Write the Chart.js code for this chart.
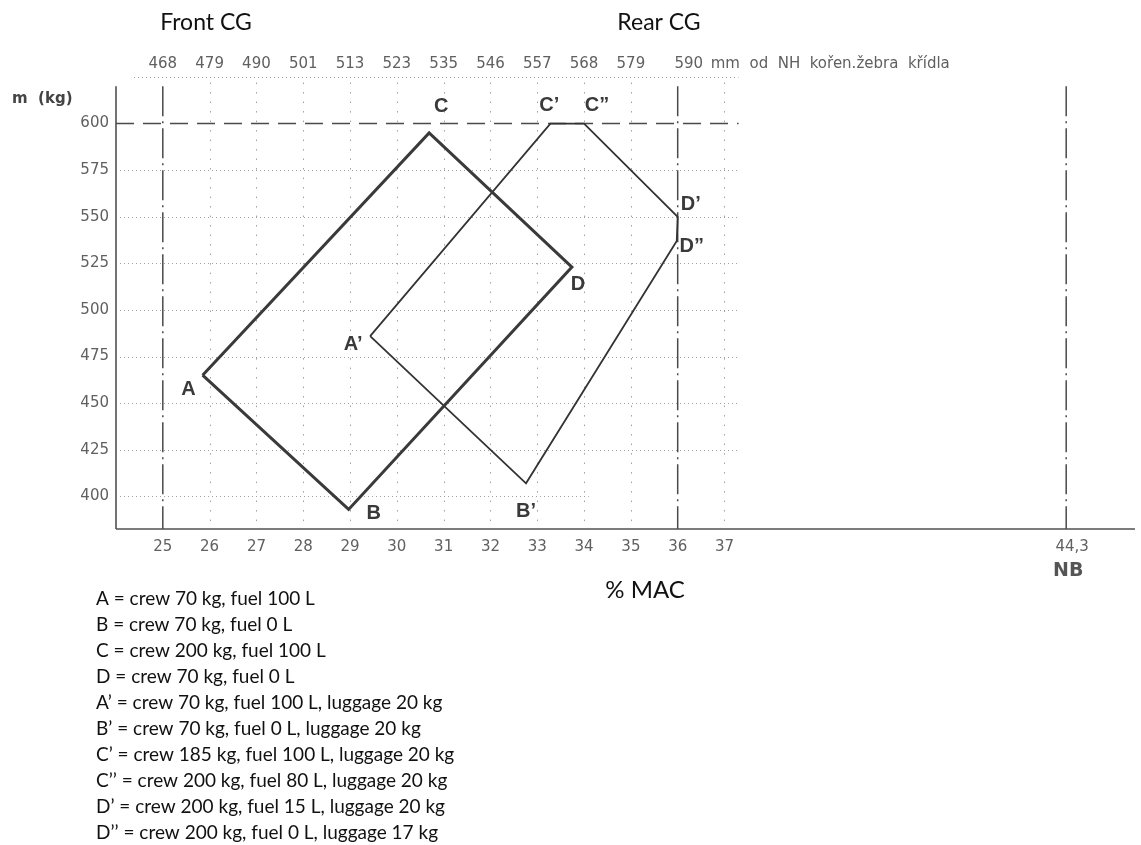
<!DOCTYPE html>
<html>
<head>
<meta charset="utf-8">
<script src="https://cdn.jsdelivr.net/npm/chart.js@4.4.0/dist/chart.umd.min.js"></script>
<style>
  body { margin: 0; background: #fff; }
  canvas { display: block; }
</style>
</head>
<body>
<canvas id="cg-chart" width="1141" height="845"></canvas>
<script>
// envelope without luggage: A -> B -> D -> C
const outerNames = ['A', 'B', 'D', 'C'];
const outerMac = [25.85, 28.97, 33.74, 30.69];
const outerMass = [465, 393, 523, 595];

// envelope with luggage: A' -> B' -> D'' -> D' -> C'' -> C'
const innerNames = ['A’', 'B’', 'D”', 'D’', 'C”', 'C’'];
const innerMac = [29.43, 32.76, 35.98, 36.0, 34.0, 33.28];
const innerMass = [486, 407, 537, 550, 600, 600];

// axes
const macTicks = [25, 26, 27, 28, 29, 30, 31, 32, 33, 34, 35, 36, 37];
const mmTicks = [468, 479, 490, 501, 513, 523, 535, 546, 557, 568, 579, 590];
const massTicks = [600, 575, 550, 525, 500, 475, 450, 425, 400];
const frontCg = 25;
const rearCg = 36;
const nbMac = 44.3;
const maxMass = 600;

const legendLines = [
    'A = crew 70 kg, fuel 100 L',
    'B = crew 70 kg, fuel 0 L',
    'C = crew 200 kg, fuel 100 L',
    'D = crew 70 kg, fuel 0 L',
    'A’ = crew 70 kg, fuel 100 L, luggage 20 kg',
    'B’ = crew 70 kg, fuel 0 L, luggage 20 kg',
    'C’ = crew 185 kg, fuel 100 L, luggage 20 kg',
    'C’’ = crew 200 kg, fuel 80 L, luggage 20 kg',
    'D’ = crew 200 kg, fuel 15 L, luggage 20 kg',
    'D’’ = crew 200 kg, fuel 0 L, luggage 17 kg'
];

// where the letter sits relative to its corner (px)
const labelOffset = {
    'A': [-14, 14], 'B': [25, 4], 'C': [12, -26], 'D': [6, 17],
    'A’': [-17, 8], 'B’': [0, 28], 'C’': [-1, -18], 'C”': [13, -18],
    'D’': [13, -12], 'D”': [15, 5]
};

function closed(macs, masses) {
    let pts = macs.map((m, i) => ({ x: m, y: masses[i] }));
    pts.push(pts[0]);
    return pts;
}

function seg(ctx, x1, y1, x2, y2) {
    ctx.beginPath();
    ctx.moveTo(x1, y1);
    ctx.lineTo(x2, y2);
    ctx.stroke();
}

const TICK_FONT = '15px "DejaVu Sans"';
const TICK_COLOR = '#606060';

const drawing = {
    id: 'drawing',
    beforeDatasetsDraw(chart) {
        const { ctx, chartArea: area, scales: { x, y } } = chart;
        const top = y.getPixelForValue(620);
        const bottom = y.getPixelForValue(y.min);
        const left = area.left;
        ctx.save();

        // dotted grid
        ctx.strokeStyle = '#a0a0a0';
        ctx.lineWidth = 1;
        ctx.setLineDash([1, 3]);
        massTicks.forEach(m => {
            if (m === maxMass) return;
            let end = m === 400 ? 34.1 : 37.3;
            let py = Math.round(y.getPixelForValue(m)) + 0.5;
            seg(ctx, left + 4, py, x.getPixelForValue(end), py);
        });
        let py0 = Math.round(y.getPixelForValue(625)) + 0.5;
        seg(ctx, left + 18, py0, x.getPixelForValue(37.3), py0);

        ctx.setLineDash([1.5, 8]);
        macTicks.forEach(v => {
            if (v === frontCg || v === rearCg) return;
            let px = Math.round(x.getPixelForValue(v)) + 0.5;
            seg(ctx, px, y.getPixelForValue(622), px, bottom - 6);
        });

        // limits
        ctx.strokeStyle = '#4a4a4a';
        ctx.lineWidth = 1.5;
        ctx.setLineDash([18, 9]);
        let pm = y.getPixelForValue(maxMass);
        seg(ctx, left, pm, x.getPixelForValue(37.3), pm);

        ctx.setLineDash([30, 5, 2, 5]);
        [frontCg, rearCg, nbMac].forEach(v => {
            let px = x.getPixelForValue(v);
            seg(ctx, px, top, px, bottom);
        });

        // axes
        ctx.setLineDash([]);
        ctx.strokeStyle = '#505050';
        ctx.lineWidth = 1.6;
        seg(ctx, left, top, left, bottom);
        seg(ctx, left, bottom, area.right, bottom);

        // tick labels
        ctx.font = TICK_FONT;
        ctx.fillStyle = TICK_COLOR;
        ctx.textBaseline = 'middle';
        ctx.textAlign = 'right';
        massTicks.forEach(m => ctx.fillText(m, left - 7, y.getPixelForValue(m)));
        ctx.textAlign = 'center';
        macTicks.forEach(v => ctx.fillText(v, x.getPixelForValue(v), bottom + 18));
        ctx.fillText('44,3', x.getPixelForValue(nbMac) + 6, bottom + 18);

        mmTicks.forEach((mm, i) => {
            let px = x.getPixelForValue(macTicks[i]);
            if (i === mmTicks.length - 1) px += 11;
            ctx.fillText(mm, px, area.top - 13);
        });
        ctx.textAlign = 'left';
        ctx.fillText('mm  od  NH  kořen.žebra  křídla',
            x.getPixelForValue(macTicks[mmTicks.length - 1]) + 33, area.top - 13);

        ctx.font = 'bold 15px "DejaVu Sans"';
        ctx.fillStyle = '#444';
        ctx.fillText('m  (kg)', 12, y.getPixelForValue(613));
        ctx.textAlign = 'center';
        ctx.font = 'bold 19px "DejaVu Sans"';
        ctx.fillStyle = '#555';
        ctx.fillText('NB', x.getPixelForValue(nbMac) + 2, bottom + 42);

        // headings and notes
        ctx.fillStyle = '#111';
        ctx.font = '23px Lato';
        ctx.fillText('Front CG', 206, 23);
        ctx.fillText('Rear CG', 659, 23);
        ctx.font = '24px Lato';
        ctx.fillText('% MAC', 645, 590);
        ctx.textAlign = 'left';
        ctx.font = '19px Lato';
        legendLines.forEach((t, i) => ctx.fillText(t, 96, 599 + i * 26));
        ctx.restore();
    },
    afterDatasetsDraw(chart) {
        const { ctx, scales: { x, y } } = chart;
        ctx.save();
        ctx.font = 'bold 20px "Liberation Sans"';
        ctx.fillStyle = '#3a3a3a';
        ctx.textAlign = 'center';
        ctx.textBaseline = 'middle';
        const put = (names, macs, masses) => names.forEach((n, i) => {
            let off = labelOffset[n];
            ctx.fillText(n, x.getPixelForValue(macs[i]) + off[0], y.getPixelForValue(masses[i]) + off[1]);
        });
        put(outerNames, outerMac, outerMass);
        put(innerNames, innerMac, innerMass);
        ctx.restore();
    }
};

new Chart(document.querySelector('#cg-chart').getContext('2d'), {
    type: 'scatter',
    data: {
        datasets: [{
            label: 'no luggage',
            data: closed(outerMac, outerMass),
            showLine: true,
            borderColor: '#3a3a3a',
            borderWidth: 3,
            pointRadius: 0,
            fill: false
        }, {
            label: 'luggage',
            data: closed(innerMac, innerMass),
            showLine: true,
            borderColor: '#333',
            borderWidth: 1.8,
            pointRadius: 0,
            fill: false
        }]
    },
    options: {
        responsive: false,
        animation: false,
        layout: { padding: { left: 116, right: 6, top: 77, bottom: 316 } },
        plugins: { legend: { display: false }, tooltip: { enabled: false } },
        scales: {
            x: { type: 'linear', min: 24, max: 45.77, display: false },
            y: { type: 'linear', min: 382.5, max: 625, display: false }
        }
    },
    plugins: [drawing]
});
</script>
</body>
</html>
